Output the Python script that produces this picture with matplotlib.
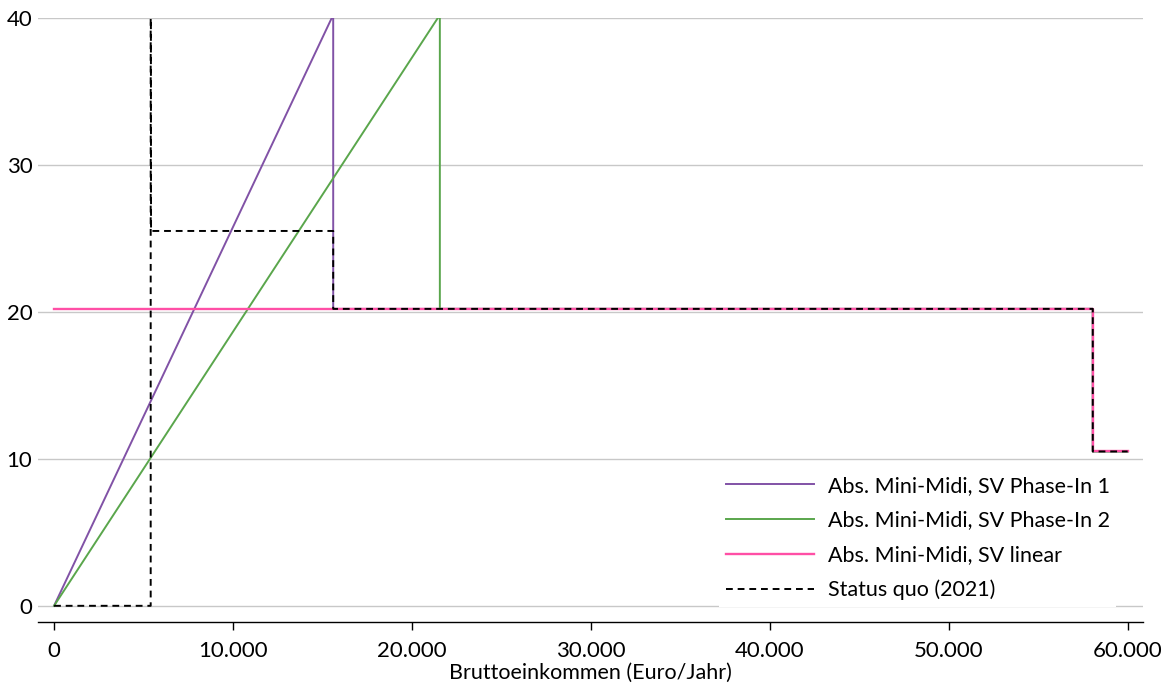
import matplotlib.pyplot as plt
from matplotlib.ticker import FuncFormatter

plt.rcParams['font.family'] = ['Lato', 'DejaVu Sans']

# Bruttoeinkommen (Euro/Jahr) and values per scenario
x_phase1 = [0, 15600, 15600, 58050, 58050, 60000]
y_phase1 = [0, 40.2, 20.2, 20.2, 10.5, 10.5]

x_phase2 = [0, 21560, 21560, 58050, 58050, 60000]
y_phase2 = [0, 40.2, 20.2, 20.2, 10.5, 10.5]

x_linear = [0, 58050, 58050, 60000]
y_linear = [20.2, 20.2, 10.5, 10.5]

x_status = [0, 5400, 5400, 5420, 15600, 15600, 58050, 58050, 60000]
y_status = [0, 0, 60, 25.5, 25.5, 20.2, 20.2, 10.5, 10.5]

labels = ['Abs. Mini-Midi, SV Phase-In 1', 'Abs. Mini-Midi, SV Phase-In 2',
          'Abs. Mini-Midi, SV linear', 'Status quo (2021)']

fig = plt.figure(figsize=(11.68, 6.85), dpi=100)
ax = fig.add_axes([0.0325, 0.092, 0.946, 0.882])

lw = 1.4
ax.plot(x_phase1, y_phase1, color='#8152a6', lw=lw, label=labels[0])
ax.plot(x_phase2, y_phase2, color='#5aa64c', lw=lw, label=labels[1])
ax.plot(x_linear, y_linear, color='#ff4fa6', lw=lw + 0.3, label=labels[2])
ax.plot(x_status, y_status, color='black', lw=lw, ls=(0, (3.5, 2.5)), label=labels[3])

ax.set_xlim(-900, 60850)
ax.set_ylim(-1.1, 40)
ax.set_yticks([0, 10, 20, 30, 40])
ax.set_xticks(range(0, 60001, 10000))
ax.xaxis.set_major_formatter(FuncFormatter(lambda v, p: f'{int(v):,}'.replace(',', '.')))
ax.grid(axis='y', color='#c8c8c8', lw=1.0)
ax.set_axisbelow(True)

for s in ['left', 'right', 'top']:
    ax.spines[s].set_visible(False)
ax.spines['bottom'].set_linewidth(1.0)
ax.tick_params(axis='y', length=0, labelsize=16, pad=4)
ax.tick_params(axis='x', length=6, width=1.0, labelsize=16, pad=8)
ax.set_xlabel('Bruttoeinkommen (Euro/Jahr)', fontsize=15.5, labelpad=1)

leg = ax.legend(loc='lower right', bbox_to_anchor=(0.976, 0.025), borderaxespad=0,
                fontsize=15.5, frameon=True, facecolor='white', edgecolor='none',
                framealpha=1, handlelength=4.1, handletextpad=0.65,
                labelspacing=0.68, borderpad=0.3, fancybox=False)

fig.savefig('out.png', dpi=100)
